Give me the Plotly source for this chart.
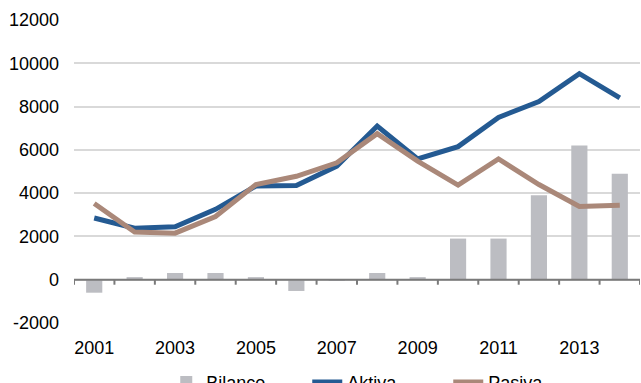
import plotly.graph_objects as go

years = [str(y) for y in range(2001, 2015)]
bilance = [-600, 120, 310, 310, 120, -520, -30, 310, 120, 1900, 1900, 3900, 6200, 4900]
aktiva = [2850, 2380, 2450, 3250, 4330, 4350, 5250, 7100, 5580, 6150, 7500, 8230, 9520, 8400]
pasiva = [3520, 2200, 2150, 2920, 4400, 4780, 5400, 6750, 5480, 4370, 5580, 4400, 3380, 3440]

y_ticks = [-2000, 0, 2000, 4000, 6000, 8000, 10000, 12000]
y_ticktext = ["-2000", "0", "2000", "4000", "6000", "8000", "10000", "12000"]
x_ticks = years[::2]

FONT = "Liberation Sans, Arial, sans-serif"
AXIS_GRAY = "#7a7a7a"

fig = go.Figure()
fig.add_trace(go.Bar(x=years, y=bilance, name="Bilance",
                     marker=dict(color="#bcbdc2", line=dict(width=0))))
fig.add_trace(go.Scatter(x=years, y=aktiva, name="Aktiva", mode="lines",
                         line=dict(color="#245a92", width=5)))
fig.add_trace(go.Scatter(x=years, y=pasiva, name="Pasiva", mode="lines",
                         line=dict(color="#aa8879", width=5)))

# category axis line at y=0 with tick marks at category boundaries
n = len(years)
fig.add_shape(type="line", xref="x", yref="y", x0=-0.5, x1=n - 0.5, y0=0, y1=0,
              line=dict(color=AXIS_GRAY, width=2), layer="above")
for i in range(n + 1):
    fig.add_shape(type="line", xref="x", yref="y", ysizemode="pixel", yanchor=0,
                  x0=i - 0.5, x1=i - 0.5, y0=0, y1=-5,
                  line=dict(color=AXIS_GRAY, width=2), layer="above")

fig.update_layout(
    width=641, height=383,
    margin=dict(l=74, r=1, t=20, b=60, autoexpand=False),
    paper_bgcolor="white", plot_bgcolor="white",
    font=dict(family=FONT, size=18, color="#000000"),
    bargap=0.6,
    showlegend=True,
    legend=dict(orientation="h", x=0.163, xanchor="left", y=-0.135, yanchor="top",
                font=dict(size=18), entrywidth=96, entrywidthmode="pixels",
                bgcolor="rgba(0,0,0,0)", traceorder="normal"),
    xaxis=dict(type="category", range=[-0.5, 13.5], tickvals=x_ticks, ticktext=x_ticks,
               tickangle=0, showgrid=False, showline=False, ticks="", zeroline=False,
               ticklabelstandoff=12),
    yaxis=dict(range=[-2000, 12000], tickvals=y_ticks, ticktext=y_ticktext,
               showgrid=True, gridcolor="#d9d9d9", gridwidth=1.5,
               zeroline=False, showline=False, ticks="", ticklabelstandoff=14),
)

fig.write_html("out.html")
